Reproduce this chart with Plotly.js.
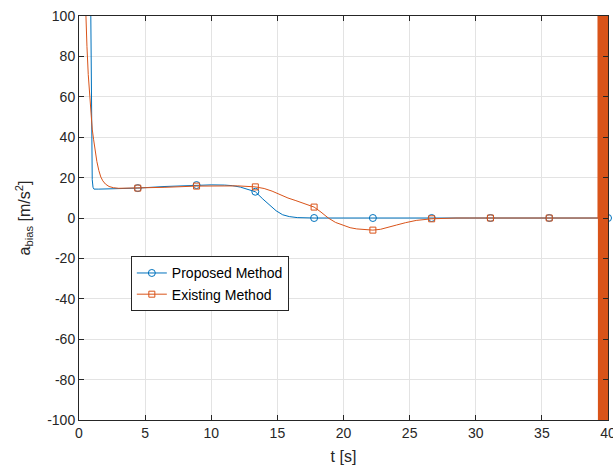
<!DOCTYPE html>
<html>
<head>
<meta charset="utf-8">
<script src="https://cdn.plot.ly/plotly-3.0.1.min.js"></script>
<style>
  html, body { margin: 0; padding: 0; background: #fff; }
  #chart { width: 613px; height: 471px; }
</style>
</head>
<body>
<div id="chart"></div>
<script>
// Accelerometer bias estimate over time, two estimators.
const propT = [0.84, 0.90, 0.93, 0.96, 1.00, 1.06, 1.13, 1.5, 2.5, 4.444, 6.5, 8.889, 10.0, 11.0, 11.6, 12.2, 12.7, 13.333, 13.9, 14.4, 14.9, 15.4, 15.9, 16.5, 17.0, 17.778, 22.222, 26.667, 31.111, 35.556, 40];
const propV = [140, 100, 60, 30, 19, 15.2, 14.3, 14.3, 14.5, 14.8, 15.6, 16.3, 16.4, 16.3, 16.0, 15.3, 14.4, 13.0, 9.4, 6.4, 3.6, 1.6, 0.7, 0.2, 0.05, 0, 0, 0, 0, 0, 0];

const existT = [0.35, 0.5, 0.6, 0.7, 0.8, 0.9, 1.0, 1.1, 1.2, 1.35, 1.5, 1.65, 1.8, 2.0, 2.27, 2.6, 3.0, 4.444, 6.5, 8.889, 10.0, 11.0, 12.0, 13.333, 14.0, 14.6, 15.2, 15.8, 16.4, 17.0, 17.778, 18.3, 18.85, 19.4, 20.0, 20.5, 21.0, 21.6, 22.222, 22.8, 23.4, 24.0, 24.7, 25.5, 26.667, 27.5, 28.5, 29.5, 31.111, 35.556, 39.28];
const existV = [135, 100, 85, 71, 60, 51, 44, 39, 34, 28, 23.5, 20.3, 18.4, 16.8, 15.6, 15.0, 14.7, 14.8, 15.2, 15.8, 15.9, 16.0, 15.9, 15.4, 14.6, 13.3, 11.5, 9.9, 8.6, 7.3, 5.4, 2.9, 0, -2.2, -3.8, -4.8, -5.4, -5.8, -6.0, -5.6, -4.7, -3.5, -2.3, -1.2, -0.4, -0.1, 0, 0, 0, 0, 0];

// the existing estimator blows up in the last stretch of the run
const existTailT = [39.28, 39.300, 39.325, 39.350, 39.375, 39.400, 39.425, 39.450, 39.475, 39.500, 39.525, 39.550, 39.575, 39.600, 39.625, 39.650, 39.675, 39.700, 39.725, 39.750, 39.775, 39.800, 39.825, 39.850, 39.875, 39.900, 39.925, 39.950, 39.975, 40.000, 40.025, 40.050];
const existTailV = [0, 3000, -3000, 3000, -3000, 3000, -3000, 3000, -3000, 3000, -3000, 3000, -3000, 3000, -3000, 3000, -3000, 3000, -3000, 3000, -3000, 3000, -3000, 3000, -3000, 3000, -3000, 3000, -3000, 3000, -3000, 3000];

// sample times that carry a marker
const propMarkT = [4.444, 8.889, 13.333, 17.778, 22.222, 26.667, 31.111, 35.556, 40];
const existMarkT = [4.444, 8.889, 13.333, 17.778, 22.222, 26.667, 31.111, 35.556];

const xTicks = [0, 5, 10, 15, 20, 25, 30, 35, 40];
const yTicks = [-100, -80, -60, -40, -20, 0, 20, 40, 60, 80, 100];

const seriesNames = ['Proposed Method', 'Existing Method'];

const BLUE = '#0072BD';
const ORANGE = '#D95319';
const INK = '#262626';

function pick(ts, vs, marks) {
  return marks.map(m => vs[ts.indexOf(m)]);
}

const traces = [
  { x: propT, y: propV, mode: 'lines', line: { color: BLUE, width: 1 }, showlegend: false, hoverinfo: 'skip' },
  { x: propMarkT, y: pick(propT, propV, propMarkT), mode: 'markers', cliponaxis: false,
    marker: { symbol: 'circle-open', size: 7, color: BLUE, line: { width: 1, color: BLUE } }, showlegend: false },
  { x: existT, y: existV, mode: 'lines', line: { color: ORANGE, width: 1 }, showlegend: false, hoverinfo: 'skip' },
  // divergent tail drawn a little heavier so the dense swings read as a solid band
  { x: existTailT, y: existTailV, mode: 'lines', line: { color: ORANGE, width: 2 }, showlegend: false, hoverinfo: 'skip' },
  { x: existMarkT, y: pick(existT, existV, existMarkT), mode: 'markers', cliponaxis: false,
    marker: { symbol: 'square-open', size: 6, color: ORANGE, line: { width: 1, color: ORANGE } }, showlegend: false },
  // legend entries
  { x: [null], y: [null], name: seriesNames[0], mode: 'lines+markers', line: { color: BLUE, width: 1 },
    marker: { symbol: 'circle-open', size: 7, color: BLUE, line: { width: 1, color: BLUE } } },
  { x: [null], y: [null], name: seriesNames[1], mode: 'lines+markers', line: { color: ORANGE, width: 1 },
    marker: { symbol: 'square-open', size: 6, color: ORANGE, line: { width: 1, color: ORANGE } } }
];

const axisCommon = {
  showline: true, linecolor: INK, linewidth: 1, mirror: 'ticks',
  ticks: 'inside', ticklen: 5, tickcolor: INK, tickwidth: 1,
  showgrid: true, gridcolor: '#e3e3e3', gridwidth: 1,
  zeroline: false, tickfont: { size: 14, color: INK }
};

const layout = {
  width: 613, height: 471,
  margin: { l: 79, r: 5, t: 16, b: 51 },
  paper_bgcolor: '#fff', plot_bgcolor: '#fff',
  font: { family: 'Liberation Sans, Arial, sans-serif', size: 14, color: INK },
  showlegend: true,
  legend: {
    x: 0.098, y: 0.405, xanchor: 'left', yanchor: 'top',
    bgcolor: '#fff', bordercolor: INK, borderwidth: 1,
    font: { size: 14, color: '#000' }, tracegroupgap: 0
  },
  xaxis: Object.assign({}, axisCommon, {
    range: [0, 40], tickvals: xTicks, ticktext: xTicks.map(String),
    ticklabeloverflow: 'allow',
    title: { text: 't [s]', font: { size: 16, color: INK }, standoff: 11 }
  }),
  yaxis: Object.assign({}, axisCommon, {
    range: [-100, 100], tickvals: yTicks, ticktext: yTicks.map(String),
    title: { text: 'a<sub>bias</sub> [m/s<sup>2</sup>]', font: { size: 16, color: INK }, standoff: 12 }
  })
};

Plotly.newPlot('chart', traces, layout, { staticPlot: true, displayModeBar: false });
</script>
</body>
</html>
